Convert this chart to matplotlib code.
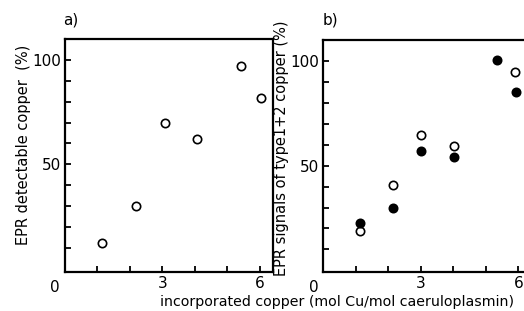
import matplotlib
matplotlib.use("Agg")
from matplotlib import pyplot as plt
from matplotlib import transforms

plt.rcParams["font.family"] = ["DejaVu Sans Condensed", "Liberation Sans Narrow", "DejaVu Sans"]

# panel a: EPR detectable copper
CU_A = [1.15, 2.19, 3.09, 4.07, 5.42, 6.02]
EPR_A = [12.3, 29.8, 69.6, 62.2, 97.3, 81.6]

# panel b: type 1 + type 2 copper signals
CU_B_OPEN = [1.12, 2.13, 3.0, 4.01, 5.89]
EPR_B_OPEN = [18.9, 40.7, 64.6, 59.5, 94.8]
CU_B_FILLED = [1.12, 2.13, 3.0, 4.01, 5.35, 5.92]
EPR_B_FILLED = [22.7, 29.6, 57.1, 54.0, 100.4, 85.0]

X_TICKS = [1, 2, 3, 4, 5, 6]
X_LABELS = ["", "", "3", "", "", "6"]
Y_TICKS = [10, 20, 30, 40, 50, 60, 70, 80, 90, 100]
Y_LABELS = ["", "", "", "", "50", "", "", "", "", "100"]

FS = 11


def style_axes(ax, ylim):
    ax.set_xlim(0, 6.4)
    ax.set_ylim(*ylim)
    ax.set_xticks(X_TICKS)
    ax.set_xticklabels(X_LABELS, fontsize=FS)
    ax.set_yticks(Y_TICKS)
    ax.set_yticklabels(Y_LABELS, fontsize=FS)
    ax.tick_params(direction="in", length=4, width=1.3, pad=3)
    for sp in ax.spines.values():
        sp.set_linewidth(1.6)
    # the shared "0" sits left of the corner
    trans = transforms.blended_transform_factory(ax.transData, ax.transAxes)
    ax.text(-0.3, -0.035, "0", transform=trans, ha="center", va="top", fontsize=FS)


fig = plt.figure(figsize=(5.24, 3.11), dpi=100)

ax_a = fig.add_axes([0.124, 0.125, 0.397, 0.749])
ax_a.plot(CU_A, EPR_A, "o", mfc="white", mec="black", ms=6, mew=1.2)
style_axes(ax_a, (-1.7, 110))
ax_a.set_ylabel("EPR detectable copper  (%)", fontsize=10.5)
ax_a.yaxis.set_label_coords(-0.165, 0.545)
fig.text(0.12, 0.935, "a)", fontsize=FS, va="center")

ax_b = fig.add_axes([0.617, 0.126, 0.397, 0.745])
ax_b.plot(CU_B_OPEN, EPR_B_OPEN, "o", mfc="white", mec="black", ms=6, mew=1.2)
ax_b.plot(CU_B_FILLED, EPR_B_FILLED, "o", mfc="black", mec="black", ms=6, mew=1.2)
style_axes(ax_b, (-0.7, 110))
ax_b.set_ylabel("EPR signals of type1+2 copper (%)", fontsize=10.5)
ax_b.yaxis.set_label_coords(-0.165, 0.535)
fig.text(0.615, 0.935, "b)", fontsize=FS, va="center")

fig.text(0.306, 0.028, "incorporated copper (mol Cu/mol caeruloplasmin)",
         fontsize=10.2, ha="left", va="center")

fig.savefig("out.png", dpi=100)
